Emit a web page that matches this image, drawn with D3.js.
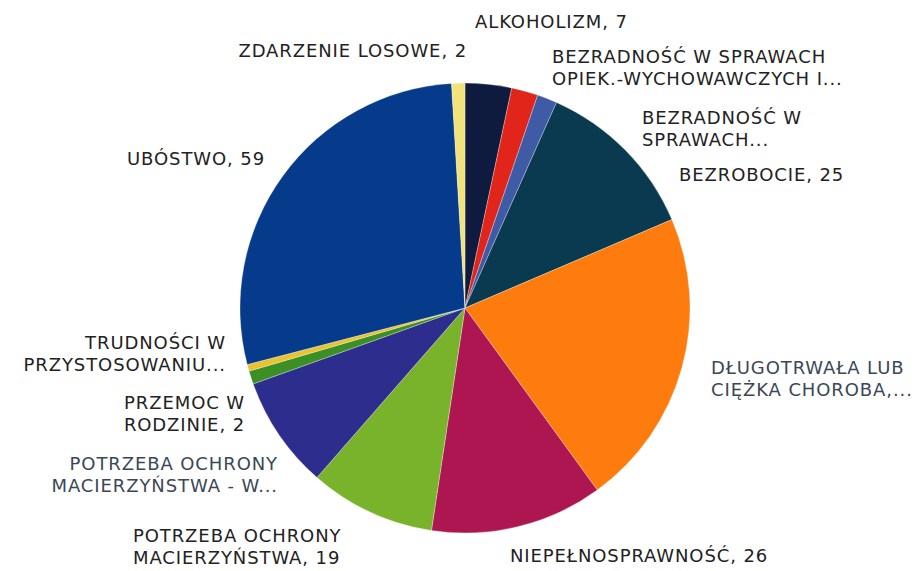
<!DOCTYPE html>
<html>
<head>
<meta charset="utf-8">
<script src="https://cdn.jsdelivr.net/npm/d3@7"></script>
<style>
  body { margin: 0; background: #fff; }
  text { font-family: "DejaVu Sans", sans-serif; }
</style>
</head>
<body>
<div id="chart"></div>
<script>
// categories, in drawing order (clockwise from 12 o'clock)
const categories = [
    ["ALKOHOLIZM, 7"],
    ["BEZRADNOŚĆ W SPRAWACH", "OPIEK.-WYCHOWAWCZYCH I..."],
    ["BEZRADNOŚĆ W", "SPRAWACH..."],
    ["BEZROBOCIE, 25"],
    ["DŁUGOTRWAŁA LUB", "CIĘŻKA CHOROBA,..."],
    ["NIEPEŁNOSPRAWNOŚĆ, 26"],
    ["POTRZEBA OCHRONY", "MACIERZYŃSTWA, 19"],
    ["POTRZEBA OCHRONY", "MACIERZYŃSTWA - W..."],
    ["PRZEMOC W", "RODZINIE, 2"],
    ["TRUDNOŚCI W", "PRZYSTOSOWANIU..."],
    ["UBÓSTWO, 59"],
    ["ZDARZENIE LOSOWE, 2"]
]
const values = [7, 4, 3, 25, 45, 26, 19, 17, 2, 1, 59, 2]
const colors = ["#0e1a3e", "#e1251b", "#3f5ba6", "#0a3a50", "#fd7c0d", "#ad1650",
                "#79b32b", "#2c2d8c", "#3b8f24", "#e9c230", "#063b8b", "#f1e37a"]

// label placement: x, y of first line, anchor, colour
const labelLayout = [
    {x: 475, y: 28, a: "start", c: "#222"},
    {x: 552, y: 63, a: "start", c: "#222"},
    {x: 642, y: 124, a: "start", c: "#222"},
    {x: 679, y: 181, a: "start", c: "#222"},
    {x: 711, y: 374, a: "start", c: "#3b4756"},
    {x: 510, y: 562, a: "start", c: "#222"},
    {x: 133, y: 542, a: "start", c: "#222"},
    {x: 278, y: 470, a: "end", c: "#3b4756"},
    {x: 245, y: 409, a: "end", c: "#222"},
    {x: 226, y: 349, a: "end", c: "#222"},
    {x: 265, y: 165, a: "end", c: "#222"},
    {x: 467, y: 57, a: "end", c: "#222"}
]

const width = 922, height = 571
const cx = 465, cy = 308, radius = 225

const svg = d3.select("#chart").append("svg")
    .attr("width", width)
    .attr("height", height)

const pie = d3.pie()
    .sort(null)
    .value(d => d)

const arc = d3.arc()
    .innerRadius(0)
    .outerRadius(radius)

const g = svg.append("g")
    .attr("transform", `translate(${cx},${cy})`)

g.selectAll(".slice")
    .data(pie(values))
    .join("path")
        .attr("class", "slice")
        .attr("d", arc)
        .attr("fill", (d, i) => colors[i])
        .attr("stroke", "#fff")
        .attr("stroke-width", 0.3)

// labels
const labels = svg.selectAll(".label")
    .data(categories)
    .join("text")
        .attr("class", "label")
        .attr("x", (d, i) => labelLayout[i].x)
        .attr("y", (d, i) => labelLayout[i].y)
        .attr("text-anchor", (d, i) => labelLayout[i].a)
        .attr("fill", (d, i) => labelLayout[i].c)
        .style("font-size", "18px")
        .style("letter-spacing", "0.9px")

labels.selectAll("tspan")
    .data((d, i) => d.map(t => ({t, i})))
    .join("tspan")
        .attr("x", d => labelLayout[d.i].x)
        .attr("dy", (d, j) => j === 0 ? 0 : 22)
        .text(d => d.t)
</script>
</body>
</html>
